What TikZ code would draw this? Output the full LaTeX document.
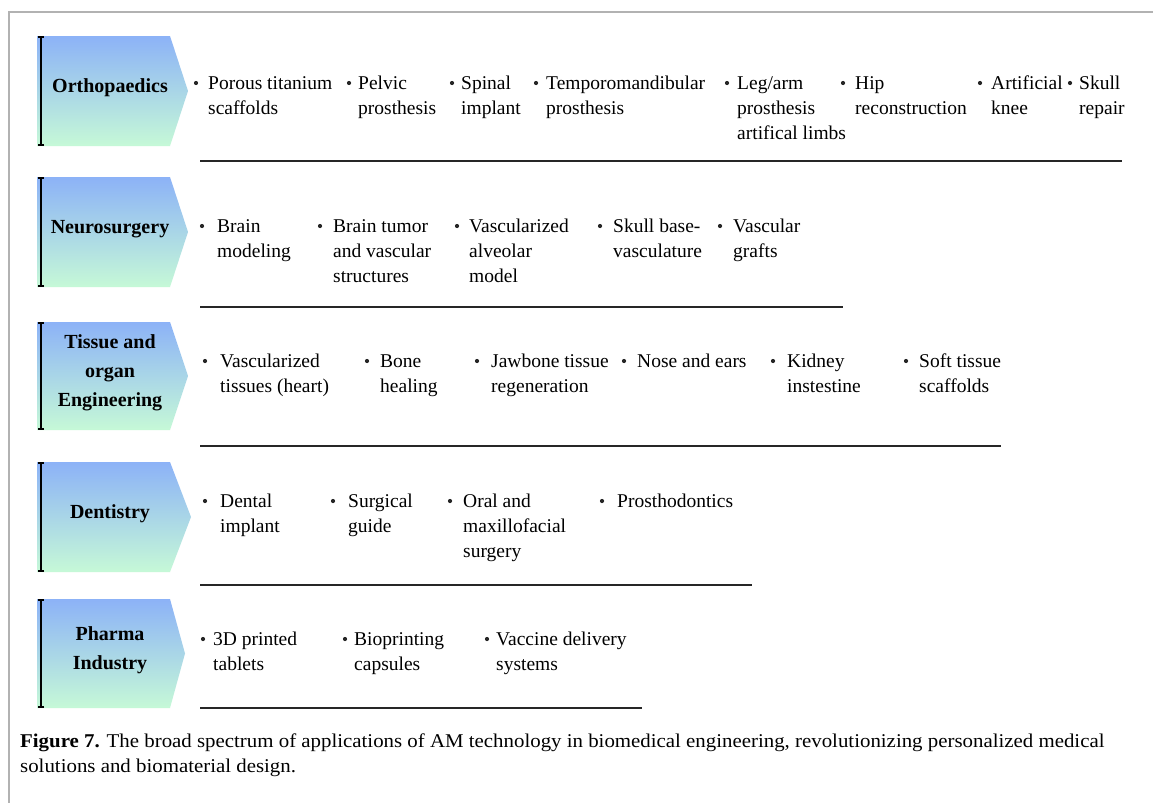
\documentclass[tikz,border=0pt]{standalone}
\usepackage{fontspec}
\setmainfont{Liberation Serif}
\newfontfamily\capfont[FakeStretch=1.07]{Liberation Serif}
\usetikzlibrary{arrows.meta}
\definecolor{gtop}{RGB}{140,178,247}
\definecolor{gbot}{RGB}{198,249,215}
\tikzset{
 catshape/.style={top color=gtop,bottom color=gbot,draw=none},
 catlabel/.style={font=\fontsize{20}{29}\selectfont\bfseries,align=center,inner sep=0},
 itemtext/.style={font=\fontsize{19.5}{25}\selectfont,anchor=base west,inner sep=0},
 bul/.style={circle,fill=black!85,inner sep=0,minimum size=4.2pt},
 sepline/.style={line width=2.2pt,black!85},
 catbar/.style={line width=1.6pt,{Bar[width=6pt]}-{Bar[width=6pt]}},
 frameline/.style={gray!60,line width=1.2pt}
}
\newcommand\catbox[5]{% name, top, bottom, label, tipx
 \shade[catshape] (37,#2) -- (170,#2) -- (#5,{(#2+#3)/2}) -- (170,#3) -- (37,#3) -- cycle;
 \draw[catbar] (41,#2) -- (41,#3);
 \node[catlabel] (#1) at (110,{(#2+#3)/2-3}) {#4};
}
\newcommand\itm[5]{% name, bullet x, text x, baseline y, text
 \node[itemtext] (#1) at (#3,#4) {\begin{tabular}[t]{@{}l@{}}#5\end{tabular}};
 \node[bul] (#1b) at (#2,#4-6) {};
}
\begin{document}
\begin{tikzpicture}[x=1pt,y=-1pt]
\useasboundingbox (0,0) rectangle (1153,803);
\fill[white] (0,0) rectangle (1153,803);
\draw[frameline] (1153,12) -| (9,803);

% categories
\catbox{ortho}{36}{146}{Orthopaedics}{188}
\catbox{neuro}{177}{287}{Neurosurgery}{188}
\catbox{tissue}{322}{430}{Tissue and\\organ\\Engineering}{188}
\catbox{dent}{462}{572}{Dentistry}{191}
\catbox{pharma}{599}{708}{Pharma\\Industry}{185}

% separators
\draw[sepline] (200,161) -- (1122,161);
\draw[sepline] (200,307) -- (843,307);
\draw[sepline] (200,446) -- (1001,446);
\draw[sepline] (200,585) -- (752,585);
\draw[sepline] (200,708) -- (642,708);

% orthopaedics
\itm{o1}{196}{208}{89}{Porous titanium\\scaffolds}
\itm{o2}{349}{358}{89}{Pelvic\\prosthesis}
\itm{o3}{452}{461}{89}{Spinal\\implant}
\itm{o4}{536}{546}{89}{Temporomandibular\\prosthesis}
\itm{o5}{727}{737}{89}{Leg/arm\\prosthesis\\artifical limbs}
\itm{o6}{843}{855}{89}{Hip\\reconstruction}
\itm{o7}{980}{991}{89}{Artificial\\knee}
\itm{o8}{1070}{1079}{89}{Skull\\repair}

% neurosurgery
\itm{n1}{202}{217}{232}{Brain\\modeling}
\itm{n2}{320}{333}{232}{Brain tumor\\and vascular\\structures}
\itm{n3}{457}{469}{232}{Vascularized\\alveolar\\model}
\itm{n4}{600}{613}{232}{Skull base-\\vasculature}
\itm{n5}{720}{733}{232}{Vascular\\grafts}

% tissue
\itm{t1}{205}{220}{367}{Vascularized\\tissues (heart)}
\itm{t2}{367}{380}{367}{Bone\\healing}
\itm{t3}{477}{491}{367}{Jawbone tissue\\regeneration}
\itm{t4}{624}{637}{367}{Nose and ears}
\itm{t5}{773}{787}{367}{Kidney\\instestine}
\itm{t6}{906}{919}{367}{Soft tissue\\scaffolds}

% dentistry
\itm{d1}{205}{220}{507}{Dental\\implant}
\itm{d2}{333}{348}{507}{Surgical\\guide}
\itm{d3}{450}{463}{507}{Oral and\\maxillofacial\\surgery}
\itm{d4}{602}{617}{507}{Prosthodontics}

% pharma
\itm{p1}{203}{213}{645}{3D printed\\tablets}
\itm{p2}{345}{354}{645}{Bioprinting\\capsules}
\itm{p3}{487}{496}{645}{Vaccine delivery\\systems}

% caption
\node[anchor=base west,inner sep=0,font=\capfont\fontsize{19.5}{25}\selectfont] (cap) at (20,747)
 {\begin{tabular}[t]{@{}l@{}}\textbf{Figure 7.} The broad spectrum of applications of AM technology in biomedical engineering, revolutionizing personalized medical\\solutions and biomaterial design.\end{tabular}};
\end{tikzpicture}
\end{document}
